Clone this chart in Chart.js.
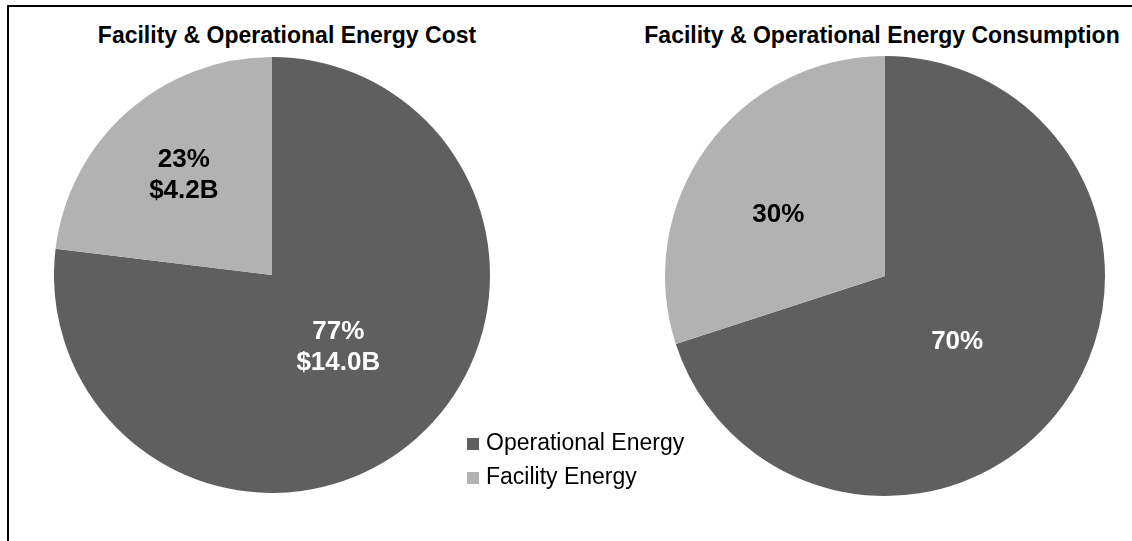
<!DOCTYPE html>
<html lang="en">
<head>
    <meta charset="UTF-8">
    <title>Facility & Operational Energy</title>
    <script src="https://cdn.jsdelivr.net/npm/chart.js"></script>
    <style>
        body { margin: 0; background: #fff; font-family: "Liberation Sans", Arial, sans-serif; width: 1132px; height: 541px; overflow: hidden; position: relative; }
        #frame { position: absolute; left: 7px; top: 5px; width: 1200px; height: 600px; border-top: 2px solid #000; border-left: 2px solid #000; }
        .title { position: absolute; top: 22px; font-weight: bold; font-size: 23px; color: #000; white-space: nowrap; transform: translateX(-50%); }
        canvas { position: absolute; }
        #legend { position: absolute; left: 467px; top: 427px; font-size: 23px; color: #000; }
        .item { height: 34px; line-height: 30px; white-space: nowrap; }
        .box { display: inline-block; width: 12px; height: 12px; margin-right: 7px; vertical-align: 0px; }
    </style>
</head>
<body>
    <div id="frame"></div>
    <div class="title" style="left:287px">Facility &amp; Operational Energy Cost</div>
    <div class="title" style="left:882px">Facility &amp; Operational Energy Consumption</div>
    <canvas id="costChart" width="436" height="436" style="left:54px; top:57px"></canvas>
    <canvas id="useChart" width="440" height="440" style="left:665px; top:56px"></canvas>
    <div id="legend"></div>

    <script>
        const categories = ['Operational Energy', 'Facility Energy'];
        const colors = ['#5f5f5f', '#b2b2b2'];
        const textColors = ['#ffffff', '#000000'];

        // cost in $B
        const costValues = [14.0, 4.2];
        const costLabels = [['77%', '$14.0B'], ['23%', '$4.2B']];

        // consumption share in %
        const useValues = [70, 30];
        const useLabels = [['70%'], ['30%']];

        // draws the slice labels inside each arc
        const sliceLabels = {
            id: 'sliceLabels',
            afterDatasetsDraw(chart, args, opts) {
                const ctx = chart.ctx;
                const meta = chart.getDatasetMeta(0);
                meta.data.forEach((arc, i) => {
                    const p = arc.getProps(['x', 'y', 'startAngle', 'endAngle', 'outerRadius'], true);
                    const mid = (p.startAngle + p.endAngle) / 2 + opts.shift[i] * Math.PI / 180;
                    const r = p.outerRadius * opts.radius[i];
                    const cx = p.x + Math.cos(mid) * r;
                    const cy = p.y + Math.sin(mid) * r;
                    const lines = opts.text[i];
                    const lh = 31;
                    ctx.save();
                    ctx.font = 'bold 26px "Liberation Sans", Arial, sans-serif';
                    ctx.fillStyle = textColors[i];
                    ctx.textAlign = 'center';
                    ctx.textBaseline = 'middle';
                    lines.forEach((t, k) => {
                        ctx.fillText(t, cx, cy + (k - (lines.length - 1) / 2) * lh);
                    });
                    ctx.restore();
                });
            }
        };

        function makePie(id, values, text, radius, shift) {
            return new Chart(document.getElementById(id), {
                type: 'pie',
                data: {
                    labels: categories,
                    datasets: [{ data: values, backgroundColor: colors, borderWidth: 0 }]
                },
                options: {
                    responsive: false,
                    animation: false,
                    layout: { padding: 0 },
                    plugins: {
                        legend: { display: false },
                        tooltip: { enabled: false },
                        sliceLabels: { text: text, radius: radius, shift: shift }
                    }
                },
                plugins: [sliceLabels]
            });
        }

        makePie('costChart', costValues, costLabels, [0.45, 0.61], [-1, 0]);
        makePie('useChart', useValues, useLabels, [0.445, 0.56], [6.5, -6]);

        const legend = document.getElementById('legend');
        categories.forEach((c, i) => {
            const row = document.createElement('div');
            row.className = 'item';
            row.innerHTML = '<span class="box" style="background:' + colors[i] + '"></span>' + c;
            legend.appendChild(row);
        });
    </script>
</body>
</html>
